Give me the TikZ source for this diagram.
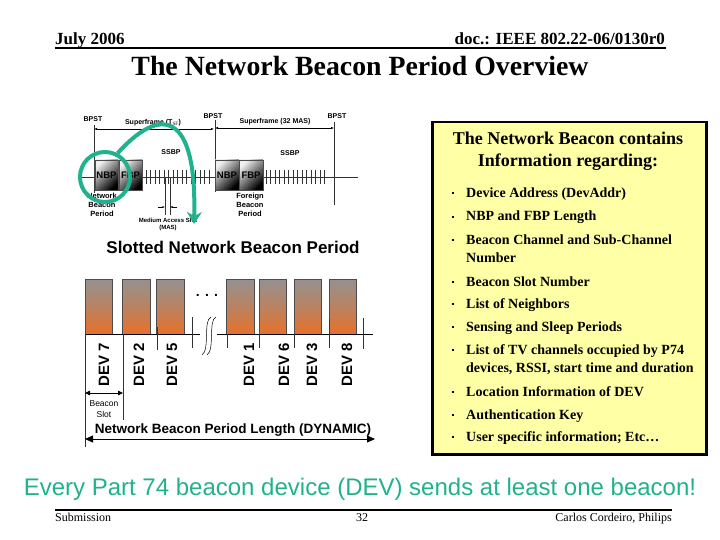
\documentclass[tikz,border=0pt]{standalone}
\usepackage{fontspec}
\setmainfont{Liberation Serif}
\setsansfont{Liberation Sans}
\usepackage{tikz}
\usetikzlibrary{positioning, arrows.meta, calc}
\usepackage{xcolor}

\definecolor{beacongreen}{RGB}{32,178,140}
\definecolor{noteyellow}{RGB}{255,255,165}
\definecolor{slottop}{RGB}{148,145,143}
\definecolor{slotbot}{RGB}{232,112,42}
\newcommand{\pxfont}[2]{\fontsize{#1}{#2}\selectfont}

\begin{document}
\begin{tikzpicture}[
        x=1pt, y=-1pt,
        hdr/.style   = {font=\pxfont{17}{20}\bfseries, inner sep=0pt},
        foot/.style  = {font=\pxfont{12}{14}, inner sep=0pt},
        tiny/.style  = {font=\sffamily\bfseries\pxfont{7}{9}, inner sep=0pt, align=center},
        beaconbox/.style = {draw=black!70, line width=0.5pt, minimum width=23.5pt, minimum height=30pt,
                            top color=black!6, bottom color=black, shading angle=45,
                            font=\sffamily\bfseries\pxfont{9.5}{11}, inner sep=0pt},
        slot/.style  = {draw=black!70, line width=0.6pt, minimum width=27.5pt, minimum height=55pt,
                        top color=slottop, bottom color=slotbot, middle color=slottop!55!slotbot, inner sep=0pt},
        devlabel/.style = {rotate=90, font=\sffamily\bfseries\pxfont{15}{16}, inner sep=0pt},
        item/.style  = {anchor=base west, align=left, font=\bfseries\pxfont{14}{18}, inner sep=0pt},
        bul/.style   = {fill=black, minimum size=2.5pt, inner sep=0pt},
        tick/.style  = {line width=0.5pt, black!80},
        arrow/.style = {{Latex[length=3pt]}-{Latex[length=3pt]}, line width=0.5pt},
        ring/.style  = {draw=beacongreen, line width=4pt, circle, minimum size=50pt, inner sep=0pt},
    ]
    \useasboundingbox (0,0) rectangle (720,540);

    % header and footer
    \node[hdr, anchor=base west] (date) at (55,45) {July 2006};
    \node[hdr, anchor=base east] (doc) at (665,45) {doc.: IEEE 802.22-06/0130r0};
    \draw[line width=2pt] (55,48.5) -- (666,48.5);
    \node[font=\pxfont{27.8}{30}\bfseries, anchor=base, inner sep=0pt] (title) at (360,76) {The Network Beacon Period Overview};
    \draw[line width=2pt] (55,510) -- (672,510);
    \node[foot, anchor=base west] (subm) at (55,521) {Submission};
    \node[foot, anchor=base] (page) at (362,521) {32};
    \node[foot, anchor=base east] (auth) at (672,521) {Carlos Cordeiro, Philips};
    \node[font=\sffamily\pxfont{24}{26}, text=beacongreen, anchor=base, inner sep=0pt] (motto) at (360,495)
        {Every Part 74 beacon device (DEV) sends at least one beacon!};

    % superframe sketch
    \draw[tick] (80,177) -- (358,177);
    \draw[tick] (94,125) -- (94,193);
    \draw[tick] (215,120) -- (215,192);
    \draw[tick] (334,122) -- (334,205);
    \foreach \xx in {146,150.5,...,210} \draw[tick] (\xx,170) -- (\xx,184);
    \foreach \xx in {266,270.5,...,325} \draw[tick] (\xx,170) -- (\xx,184);
    \node[beaconbox] (nbp1) at (106.5,175) {NBP};
    \node[beaconbox, right=0pt of nbp1] (fbp1) {FBP};
    \node[beaconbox] (nbp2) at (227,175) {NBP};
    \node[beaconbox, right=0pt of nbp2] (fbp2) {FBP};

    \node[tiny] (bpst1) at (93,119) {BPST};
    \node[tiny] (bpst2) at (213,116) {BPST};
    \node[tiny] (bpst3) at (337,116) {BPST};
    \coordinate (sf1l) at (94,129);  \coordinate (sf1r) at (214,129);
    \coordinate (sf2l) at (215,128); \coordinate (sf2r) at (334,128);
    \draw[arrow] (sf1l) -- (sf1r);
    \draw[arrow] (sf2l) -- (sf2r);
    \node[tiny] (sf1) at (153,123) {Superframe (T$_\mathrm{SF}$)};
    \node[tiny] (sf2) at (275,122) {Superframe (32 MAS)};
    \node[tiny] (ssbp1) at (171,152) {SSBP};
    \node[tiny] (ssbp2) at (290,153) {SSBP};
    \node[tiny, font=\sffamily\bfseries\pxfont{7.5}{9}] (nbplab) at (102,205) {Network\\Beacon\\Period};
    \node[tiny, font=\sffamily\bfseries\pxfont{7.5}{9}] (fbplab) at (250,205) {Foreign\\Beacon\\Period};

    % medium access slot marker
    \draw[tick] (165,177) -- (165,215);
    \draw[tick] (170,177) -- (170,215);
    \coordinate (masl) at (158,207); \coordinate (masr) at (177,207);
    \draw[-{Latex[length=2.5pt]}, line width=0.4pt] (masl) -- (165,207);
    \draw[-{Latex[length=2.5pt]}, line width=0.4pt] (masr) -- (170,207);
    \node[tiny, font=\sffamily\bfseries\pxfont{6}{7}] (maslab) at (168,224) {Medium Access Slot\\(MAS)};

    % green highlight
    \node[ring] (nbpring) at (105,177) {};
    \coordinate (mastip) at (194,224);
    \draw[beacongreen, line width=4pt, -{Stealth[length=12pt, width=15pt, inset=4pt]}]
        (nbpring.62) .. controls (160,106) and (197,110) .. (mastip);

    % slotted network beacon period
    \node[font=\sffamily\bfseries\pxfont{17}{19}, inner sep=0pt] (slottitle) at (233,247) {Slotted Network Beacon Period};
    \node[slot] (sdev7) at (99,306.5) {};
    \node[slot] (sdev2) at (136.5,306.5) {};
    \node[slot] (sdev5) at (170.5,306.5) {};
    \node[slot] (sdev1) at (240.5,306.5) {};
    \node[slot] (sdev6) at (273,306.5) {};
    \node[slot] (sdev3) at (308,306.5) {};
    \node[slot] (sdev8) at (343,306.5) {};
    \draw[line width=0.8pt] (85,334) -- (200,334);
    \draw[line width=0.8pt] (217,334) -- (373,334);
    \draw[tick] (85,334) -- (85,447);
    \draw[tick] (123,334) -- (123,420);
    \draw[tick] (157,327) -- (157,350);
    \draw[tick] (192,317) -- (192,348);
    \draw[tick] (227,334) -- (227,348);
    \draw[tick] (259,334) -- (259,348);
    \draw[tick] (294,334) -- (294,348);
    \draw[tick] (329,319) -- (329,348);
    \draw[tick] (363,318) -- (363,349);
    \node[font=\sffamily\bfseries\pxfont{14}{14}, inner sep=0pt] (gap) at (207,295) {. . .};
    \draw[line width=0.5pt] (202,355) .. controls (210,350) and (203,320) .. (211,317);
    \draw[line width=0.5pt] (207,355) .. controls (215,350) and (208,320) .. (216,317);

    \node[devlabel] (l7) at (104,365) {DEV 7};
    \node[devlabel] (l2) at (139,365) {DEV 2};
    \node[devlabel] (l5) at (172,365) {DEV 5};
    \node[devlabel] (l1) at (249,365) {DEV 1};
    \node[devlabel] (l6) at (284,365) {DEV 6};
    \node[devlabel] (l3) at (312,365) {DEV 3};
    \node[devlabel] (l8) at (347,365) {DEV 8};

    \coordinate (bsl) at (85,393); \coordinate (bsr) at (123,393);
    \draw[{Triangle[length=5pt, width=4.5pt]}-{Triangle[length=5pt, width=4.5pt]}, line width=0.8pt] (bsl) -- (bsr);
    \node[tiny, font=\sffamily\pxfont{8.5}{10.5}] (bslab) at (104,409) {Beacon\\Slot};
    \node[font=\sffamily\bfseries\pxfont{13.5}{15}, inner sep=0pt] (nbplen) at (233,430) {Network Beacon Period Length (DYNAMIC)};
    \coordinate (lenl) at (85,439); \coordinate (lenr) at (375,439);
    \draw[{Triangle[length=8pt, width=7pt]}-{Triangle[length=8pt, width=7pt]}, line width=0.8pt] (lenl) -- (lenr);

    % information box
    \node[draw, line width=2.5pt, fill=noteyellow, minimum width=274pt, minimum height=332pt, anchor=north west] (info) at (431,121) {};
    \node[font=\bfseries\pxfont{18}{22}, align=center, inner sep=0pt, anchor=base] (infohead) at (568,167)
        {The Network Beacon contains\\Information regarding:};
    % bullet baseline / last line baseline / text
    \foreach \yy/\ly/\txt [count=\i] in {
            197/197/{Device Address (DevAddr)},
            221/221/{NBP and FBP Length},
            244/262/{Beacon Channel and Sub-Channel\\Number},
            286/286/{Beacon Slot Number},
            308/308/{List of Neighbors},
            331/331/{Sensing and Sleep Periods},
            354/372/{List of TV channels occupied by P74\\devices, RSSI, start time and duration},
            396/396/{Location Information of DEV},
            419/419/{Authentication Key},
            441/441/{User specific information; Etc\dots}} {
        \node[bul] (b\i) at (453,\yy-4) {};
        \node[item] (item\i) at (466,\ly) {\txt};
    }
\end{tikzpicture}
\end{document}
